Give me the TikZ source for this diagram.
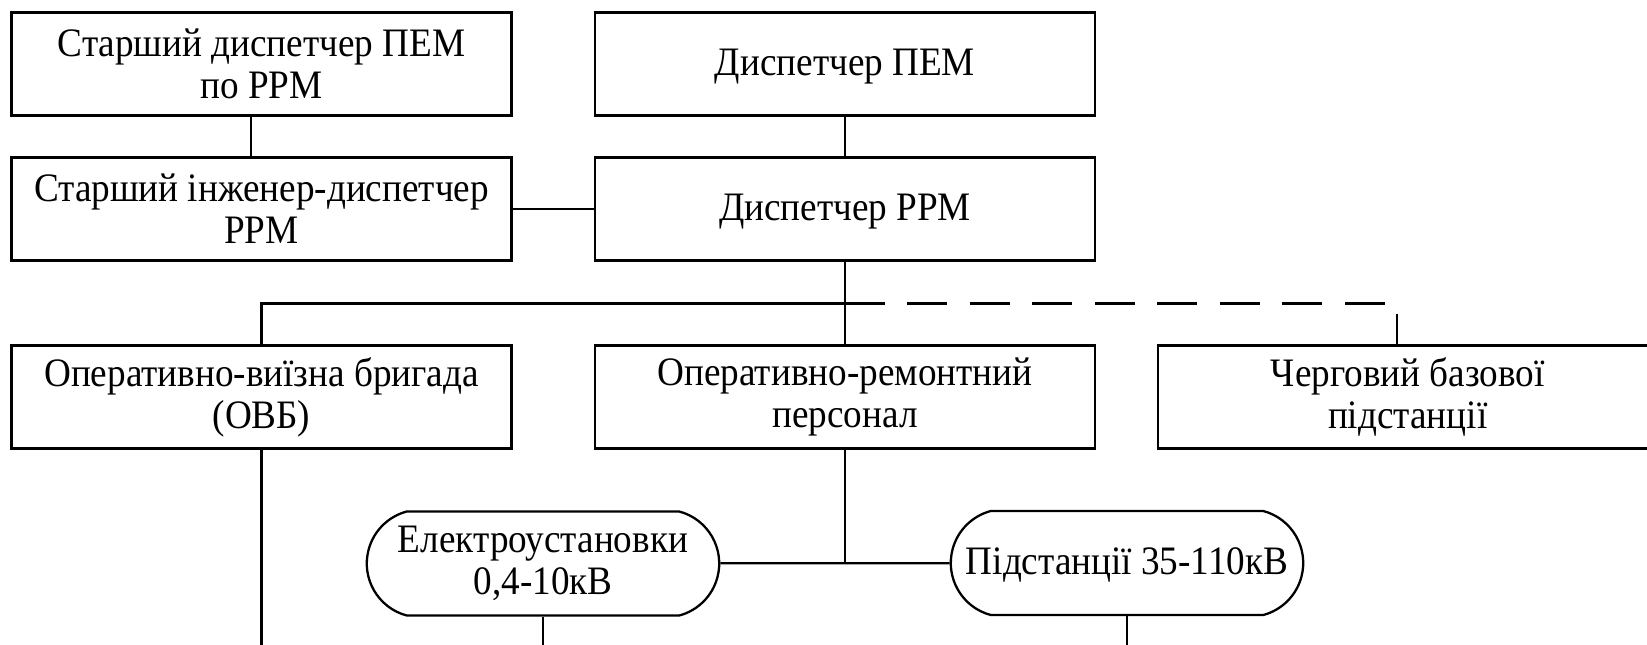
\documentclass[tikz,border=0pt]{standalone}
\usepackage{fontspec}
\setmainfont[FakeStretch=0.92]{Liberation Serif}
\usetikzlibrary{shapes.misc}
\tikzset{
    every node/.style={inner sep=0mm, align=center, font=\fontsize{23}{24}\selectfont},
    unitbox/.style={draw, rectangle, line width=1.3pt, minimum width=10cm, minimum height=2.06cm},
    placebox/.style={draw, rounded rectangle, rounded rectangle arc length=150, line width=1.3pt, minimum width=7.05cm, minimum height=2.08cm},
    oneline/.style={text height=15pt, text depth=2pt},
    link/.style={line width=1.3pt},
    dutylink/.style={line width=1.3pt, dash pattern=on 0.8cm off 0.45cm}
}
\begin{document}
\begin{tikzpicture}[x=0.02cm, y=-0.02cm]
        \useasboundingbox (0,0) rectangle (1647,645);
        \node (sdisp) [unitbox] at (261.5, 64) {Старший диспетчер ПЕМ\\по РРМ};
        \node (dpem) [unitbox, oneline] at (845, 64) {Диспетчер ПЕМ};
        \node (seng) [unitbox] at (261.5, 209) {Старший інженер-диспетчер\\РРМ};
        \node (drrm) [unitbox, oneline] at (845, 209) {Диспетчер РРМ};
        \node (ovb) [unitbox] at (261.5, 397) {Оперативно-виїзна бригада\\(ОВБ)};
        \node (orp) [unitbox] at (845, 397) {Оперативно-ремонтний\\персонал};
        \node (cherg) [unitbox] at (1407.7, 397) {Черговий базової\\підстанції};
        \node (elust) [placebox] at (543, 563.5) {Електроустановки\\0,4-10кВ};
        \node (pidst) [placebox, oneline] at (1127, 563) {Підстанції 35-110кВ};
        \coordinate (j1) at (845, 303.6);
        \coordinate (j2) at (845, 563.5);
        \coordinate (gtop) at (1397, 345.6);
        \coordinate (ovbend) at (261.5, 650);
        \coordinate (elend) at (543, 650);
        \coordinate (psend) at (1127, 650);
        \draw [link] ([xshift=-0.21cm]sdisp.south) -- ([xshift=-0.21cm]seng.north);
        \draw [link] (dpem) -- (drrm);
        \draw [link] (seng) -- (drrm);
        \draw [link] (drrm) -- (orp);
        \draw [link] (ovb.north) |- (j1);
        \draw [dutylink] (j1) -| (gtop);
        \draw [link] (orp.south) -- (j2);
        \draw [link] (elust) -- (pidst);
        \draw [link] (ovb.south) -- (ovbend);
        \draw [link] (elust.south) -- (elend);
        \draw [link] (pidst.south) -- (psend);
\end{tikzpicture}
\end{document}
